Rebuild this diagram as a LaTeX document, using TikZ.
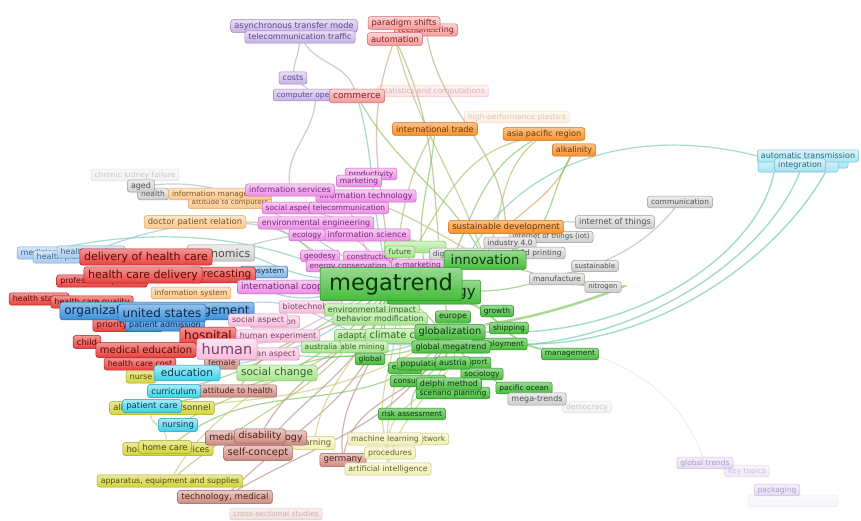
\documentclass[tikz,border=0pt]{standalone}
\usepackage{fontspec}
\setmainfont{DejaVu Sans}
\pgfdeclarelayer{bgzero}
\pgfdeclarelayer{edgelayer}
\pgfsetlayers{bgzero,edgelayer,main}
\definecolor{PuF}{HTML}{C5B0E6}\definecolor{PuD}{HTML}{9D84C4}\definecolor{PuT}{HTML}{5E4488}
\definecolor{SaF}{HTML}{F59898}\definecolor{SaD}{HTML}{D46A6A}\definecolor{SaT}{HTML}{7E1C1C}
\definecolor{OrF}{HTML}{F7902A}\definecolor{OrD}{HTML}{CF6E0E}\definecolor{OrT}{HTML}{6E3300}
\definecolor{PeF}{HTML}{FBC68A}\definecolor{PeD}{HTML}{E0A060}\definecolor{PeT}{HTML}{7E5218}
\definecolor{MaF}{HTML}{EC8DE6}\definecolor{MaD}{HTML}{C866C0}\definecolor{MaT}{HTML}{782676}
\definecolor{GrF}{HTML}{CDCDCD}\definecolor{GrD}{HTML}{9A9A9A}\definecolor{GrT}{HTML}{505050}
\definecolor{LbF}{HTML}{A6CBEE}\definecolor{LbD}{HTML}{7CA6CE}\definecolor{LbT}{HTML}{3E6088}
\definecolor{ReF}{HTML}{E8403C}\definecolor{ReD}{HTML}{B41E1E}\definecolor{ReT}{HTML}{5E0606}
\definecolor{BlF}{HTML}{3B90DA}\definecolor{BlD}{HTML}{1E66AE}\definecolor{BlT}{HTML}{08264E}
\definecolor{PkF}{HTML}{F8BCDD}\definecolor{PkD}{HTML}{D890B8}\definecolor{PkT}{HTML}{7E3E66}
\definecolor{GnF}{HTML}{44BC3A}\definecolor{GnD}{HTML}{2A8A22}\definecolor{GnT}{HTML}{0A3608}
\definecolor{LgF}{HTML}{A6E38A}\definecolor{LgD}{HTML}{7EBE66}\definecolor{LgT}{HTML}{2C661E}
\definecolor{CyF}{HTML}{3ED0EA}\definecolor{CyD}{HTML}{1E9EBE}\definecolor{CyT}{HTML}{083E4E}
\definecolor{YeF}{HTML}{D4D43A}\definecolor{YeD}{HTML}{A6A61E}\definecolor{YeT}{HTML}{4A4A06}
\definecolor{RoF}{HTML}{CC8A80}\definecolor{RoD}{HTML}{A05E56}\definecolor{RoT}{HTML}{561C16}
\definecolor{PyF}{HTML}{F0F0B0}\definecolor{PyD}{HTML}{C6C67E}\definecolor{PyT}{HTML}{62622C}
\definecolor{TqF}{HTML}{A6E4F2}\definecolor{TqD}{HTML}{6EBED6}\definecolor{TqT}{HTML}{28667C}
\definecolor{eTeal}{HTML}{6FCBB5}\definecolor{eGreen}{HTML}{7CC65A}\definecolor{eOlive}{HTML}{B5BA6A}
\definecolor{eSal}{HTML}{D5A080}\definecolor{eGray}{HTML}{A8BAB2}\definecolor{eBlue}{HTML}{8DBEE0}
\definecolor{eRose}{HTML}{B88E86}\definecolor{eCyan}{HTML}{6CCFE0}\definecolor{ePink}{HTML}{E0A0D0}
\definecolor{eYel}{HTML}{C8CC70}\definecolor{eOr}{HTML}{E0A050}
\tikzset{
 lab/.style={rounded corners=2.5pt, line width=0.5pt, inner ysep=0pt},
 sz/.style={font=\fontsize{#1}{#1}\selectfont, minimum height={1.3*#1pt+2pt}, inner xsep={0.2*#1pt+2pt}},
 cPu/.style={lab, top color=PuF!40!white, bottom color=PuF, draw=PuD, text=PuT},
 cSa/.style={lab, top color=SaF!40!white, bottom color=SaF, draw=SaD, text=SaT},
 cOr/.style={lab, top color=OrF!55!white, bottom color=OrF, draw=OrD, text=OrT},
 cPe/.style={lab, top color=PeF!45!white, bottom color=PeF, draw=PeD, text=PeT},
 cMa/.style={lab, top color=MaF!45!white, bottom color=MaF, draw=MaD, text=MaT},
 cGr/.style={lab, top color=GrF!35!white, bottom color=GrF, draw=GrD, text=GrT},
 cLb/.style={lab, top color=LbF!45!white, bottom color=LbF, draw=LbD, text=LbT},
 cRe/.style={lab, top color=ReF!55!white, bottom color=ReF, draw=ReD, text=ReT},
 cBl/.style={lab, top color=BlF!55!white, bottom color=BlF, draw=BlD, text=BlT},
 cPk/.style={lab, top color=PkF!40!white, bottom color=PkF, draw=PkD, text=PkT},
 cGn/.style={lab, top color=GnF!55!white, bottom color=GnF, draw=GnD, text=GnT},
 cLg/.style={lab, top color=LgF!45!white, bottom color=LgF, draw=LgD, text=LgT},
 cCy/.style={lab, top color=CyF!45!white, bottom color=CyF, draw=CyD, text=CyT},
 cYe/.style={lab, top color=YeF!50!white, bottom color=YeF, draw=YeD, text=YeT},
 cRo/.style={lab, top color=RoF!45!white, bottom color=RoF, draw=RoD, text=RoT},
 cPy/.style={lab, top color=PyF!40!white, bottom color=PyF, draw=PyD, text=PyT},
 cTq/.style={lab, top color=TqF!40!white, bottom color=TqF, draw=TqD, text=TqT},
 fade/.style={opacity=0.28},
 e/.style={line width=1.2pt, opacity=0.65},
}
\begin{document}
\begin{tikzpicture}[x=1pt,y=-1pt]
\useasboundingbox (0,0) rectangle (861,520);
\begin{pgfonlayer}{bgzero}
\fill[white] (0,0) rectangle (861,520);
\end{pgfonlayer}
% ---------- faded nodes
\node[cSa,sz=7.5,fade] (stat) at (433,91) {statistics and computations};
\node[cPe,sz=7.5,fade] (hpp) at (517,117) {high-performance plastics};
\node[cGr,sz=7.5,fade] (ckf) at (135,175) {chronic kidney failure};
\node[cGr,sz=7.5,fade] (demo) at (587,407) {democracy};
\node[cRo,sz=7.5,fade] (css) at (276,514) {cross-sectional studies};
\node[cPu,sz=7.5,fade] (ktp) at (747,471) {key topics};
\node[cPu,sz=7.5,opacity=0.45] (gtr) at (705,463) {global trends};
\node[cPu,sz=7.5,opacity=0.15,minimum width=90] (resb) at (793,501) {};
\node[cPu,sz=7.5,opacity=0.45] (pack) at (777,490) {packaging};
% ---------- purple top
\node[cPu,sz=8.3] (atm) at (294,26) {asynchronous transfer mode};
\node[cPu,sz=8] (ttr) at (300,37) {telecommunication traffic};
\node[cPu,sz=8] (costs) at (293,78) {costs};
\node[cPu,sz=7.5] (compop) at (316,95) {computer operations};
% ---------- salmon
\node[cSa,sz=8] (reeng) at (426,30) {reengineering};
\node[cSa,sz=8.3] (ps) at (404,23) {paradigm shifts};
\node[cSa,sz=8.3] (auto) at (395,39) {automation};
\node[cSa,sz=9] (comm) at (357,96) {commerce};
% ---------- orange
\node[cOr,sz=8.3] (itrade) at (435,129) {international trade};
\node[cOr,sz=8.2] (apr) at (544,134) {asia pacific region};
\node[cOr,sz=8] (alk) at (574,150) {alkalinity};
% ---------- turquoise
\node[cTq,sz=8,minimum width=90] (atb1) at (803,162) {};
\node[cTq,sz=8,minimum width=80] (atb2) at (798,166) {};
\node[cTq,sz=8] (at) at (808,156) {automatic transmission};
\node[cTq,sz=8] (integ) at (800,165) {integration};
% ---------- gray
\node[cGr,sz=7.5] (hlth) at (153,194) {health};
\node[cGr,sz=8] (aged) at (141,186) {aged};
\node[cGr,sz=7.5] (comm2) at (680,202) {communication};
\node[cGr,sz=7] (iot2) at (551,237) {internet of things (iot)};
\node[cGr,sz=8.3] (iot) at (615,222) {internet of things};
\node[cGr,sz=7.5] (ind) at (510,243) {industry 4.0};
\node[cGr,sz=7.5] (tdp) at (541,253) {3d printing};
\node[cGr,sz=7] (sust) at (595,266) {sustainable};
\node[cGr,sz=7.5] (manu) at (557,279) {manufacture};
\node[cGr,sz=7] (nitro) at (603,287) {nitrogen};
\node[cOr,sz=8.5] (sd) at (506,227) {sustainable development};
% ---------- peach
\node[cPe,sz=7] (attc) at (230,203) {attitude to computers};
\node[cPe,sz=7.5] (infm) at (220,194) {information management};
\node[cPe,sz=8.4] (dpr) at (195,222) {doctor patient relation};
% ---------- magenta
\node[cMa,sz=7.5] (soc) at (292,208) {social aspects};
\node[cMa,sz=7.5] (tel) at (349,208) {telecommunication};
\node[cMa,sz=7.5] (prod) at (371,174) {productivity};
\node[cMa,sz=7.5] (mkt) at (359,181) {marketing};
\node[cMa,sz=8] (it) at (366,196) {information technology};
\node[cMa,sz=8] (is) at (290,190) {information services};
\node[cMa,sz=8] (ee) at (316,223) {environmental engineering};
\node[cMa,sz=8] (infsci) at (367,235) {information science};
\node[cMa,sz=7.5] (eco) at (307,235) {ecology};
\node[cMa,sz=7.5] (geo) at (320,256) {geodesy};
\node[cMa,sz=7.5] (cons) at (370,257) {construction};
\node[cMa,sz=7.5] (enc) at (348,266) {energy conservation};
\node[cMa,sz=7.5] (mkt2) at (418,265) {e-marketing};
% ---------- light blue
\node[cLb,sz=8] (lb1) at (39,253) {medicine};
\node[cLb,sz=8] (lb2) at (68,257) {health planning};
\node[cLb,sz=8] (lb3) at (91,252) {health services};
\node[lab,sz=7.5,top color=BlF!30!white,bottom color=BlF!65!white,draw=BlD,text=BlT] (eco2) at (264,272) {ecosystem};
% ---------- red / gray big
\node[cGr,sz=11] (econ) at (221,253) {economics};
\node[cRe,sz=10.5] (fc) at (222,275) {forecasting};
\node[cRe,sz=8] (pro) at (102,281) {professional practice};
\node[cRe,sz=11] (doh) at (146,257) {delivery of health care};
\node[cRe,sz=11] (hcd) at (143,275) {health care delivery};
\node[cMa,sz=9] (icoop) at (298,287) {international cooperation};
\node[cPe,sz=7.5] (infsys) at (191,293) {information system};
\node[cRe,sz=8] (hs1) at (39,299) {health status};
\node[cRe,sz=8] (hs2) at (92,302) {health care quality};
\node[cRe,sz=8.5] (prio) at (128,325) {priority journal};
\node[cBl,sz=8] (pad) at (165,325) {patient admission};
\node[cBl,sz=12] (orgm) at (157,311) {organization and management};
\node[cBl,sz=12] (us) at (162,313) {united states};
\node[cRe,sz=12] (hosp) at (208,336) {hospital};
\node[cRe,sz=8.5] (child) at (87,342) {child};
\node[cRe,sz=8] (hcc) at (140,364) {health care cost};
\node[cRe,sz=10] (med) at (146,350) {medical education};
% ---------- light pink
\node[cPk,sz=8] (evl) at (275,322) {evaluation};
\node[cPk,sz=8] (asp1) at (258,320) {social aspect};
\node[cPk,sz=8] (hexp) at (278,336) {human experiment};
\node[cRo,sz=8] (fem) at (222,363) {female};
\node[cPk,sz=8] (asp2) at (267,354) {human aspect};
\node[cPk,sz=14.5] (human) at (227,349) {human};
\node[cPk,sz=8] (bio) at (311,307) {biotechnology};
% ---------- light green
\node[cLg,sz=7.5,minimum width=62] (futb) at (415,247) {};
\node[cLg,sz=7.5] (future) at (400,252) {future};
\node[cGr,sz=7.5] (digi) at (457,254) {digitalization};
\node[cLg,sz=8] (envimp) at (372,310) {environmental impact};
\node[cLg,sz=8] (behmod) at (380,319) {behavior modification};
\node[cLg,sz=8.5] (adapt) at (361,336) {adaptation};
\node[cLg,sz=10] (cc) at (408,336) {climate change};
\node[cLg,sz=7.5] (sm) at (349,347) {sustainable mining};
\node[cLg,sz=7.5] (aus) at (321,347) {australia};
\node[cLg,sz=10.5] (schange) at (277,373) {social change};
% ---------- green
\node[cGn,sz=7.5] (growth) at (497,311) {growth};
\node[cGn,sz=8] (europe) at (453,317) {europe};
\node[cGn,sz=7.5] (pping) at (509,328) {shipping};
\node[cGn,sz=7.5] (ment) at (500,344) {employment};
\node[cGn,sz=8] (gmt) at (451,347) {global megatrend};
\node[cGn,sz=9.8] (glob) at (450,332) {globalization};
\node[cGn,sz=7.5] (global) at (370,359) {global};
\node[cGn,sz=7.5] (en) at (405,368) {energy};
\node[cGn,sz=7.5] (trn) at (470,363) {transport};
\node[cGn,sz=7.5] (ogy) at (482,374) {sociology};
\node[cGn,sz=8] (popu) at (422,364) {population};
\node[cGn,sz=8] (austria) at (453,363) {austria};
\node[cGn,sz=7.5] (consu) at (418,381) {consumption};
\node[cGn,sz=7.5] (scen) at (453,393) {scenario planning};
\node[cGn,sz=8] (delphi) at (449,384) {delphi method};
\node[cGn,sz=7.5] (pacific) at (524,388) {pacific ocean};
\node[cGr,sz=8] (mt) at (537,399) {mega-trends};
\node[cGn,sz=7.5] (mgmt) at (570,354) {management};
\node[cGn,sz=7.5] (risk) at (412,414) {risk assessment};
\node[cGn,sz=13,minimum width=82] (innov) at (485,260) {innovation};
\node[cGn,sz=15,minimum height=24] (tech) at (434,292) {technology};
\node[cGn,sz=22.5,minimum height=33,minimum width=142] (mega) at (391,284) {megatrend};
% ---------- cyan / yellow
\node[cYe,sz=8] (nurse) at (141,377) {nurse};
\node[cCy,sz=10.5,minimum width=66] (edu) at (187,373) {education};
\node[cRo,sz=8] (ath) at (238,391) {attitude to health};
\node[cCy,sz=8.5] (curr) at (174,391) {curriculum};
\node[cYe,sz=8.5] (hp) at (162,408) {allied health personnel};
\node[cCy,sz=8.5] (pcare) at (152,406) {patient care};
\node[cCy,sz=8.5] (nurs) at (178,425) {nursing};
\node[cYe,sz=8.5] (hcs) at (168,449) {home care services};
\node[cYe,sz=8.5] (hcare) at (165,447) {home care};
\node[cYe,sz=7.8] (app) at (170,481) {apparatus, equipment and supplies};
% ---------- rose / pale yellow
\node[cPy,sz=8.5] (learn) at (314,443) {learning};
\node[cRo,sz=9.5] (medt) at (256,438) {medical technology};
\node[cRo,sz=9.5] (dis) at (260,436) {disability};
\node[cRo,sz=10] (sc) at (258,453) {self-concept};
\node[cRo,sz=8.7] (ger) at (343,460) {germany};
\node[cRo,sz=8.6] (tm) at (225,497) {technology, medical};
\node[cPy,sz=7.5] (nw) at (430,439) {network};
\node[cPy,sz=7.8] (ml) at (385,439) {machine learning};
\node[cPy,sz=7.8] (proc) at (390,453) {procedures};
\node[cPy,sz=7.8] (ai) at (388,469) {artificial intelligence};
% ---------- edges
\begin{pgfonlayer}{edgelayer}
\draw[e,eGray] (ttr) to[out=-95,in=85] (costs);
\draw[e,eGray] (ttr) to[out=-55,in=110] (comm);
\draw[e,eGray] (costs) -- (compop);
\draw[e,eGray] (compop) to[out=-95,in=95] (is);
\draw[e,eTeal] (comm) to[out=-75,in=105] (mega);
\draw[e,eGreen] (comm) to[out=-60,in=120] (innov);
\draw[e,eSal] (auto) to[out=-110,in=95] (mega);
\draw[e,eOlive] (auto) to[out=-75,in=110] (innov);
\draw[e,eSal!60!eGreen] (auto) to[out=-65,in=100] (glob);
\draw[e,eSal!60!eGreen] (reeng) to[out=-80,in=95] (sd);
\draw[e,eOlive] (itrade) to[out=-120,in=80] (mega);
\draw[e,eGreen] (itrade) to[out=-95,in=110] (tech);
\draw[e,eOlive] (apr) to[out=-165,in=55] (mega);
\draw[e,eGreen] (apr) to[out=-150,in=60] (tech);
\draw[e,eOr] (alk) to[out=-115,in=40] (sd);
\draw[e,eTeal] (at.west) .. controls (650,128) and (520,150) .. (mega.north east);
\draw[e,eTeal,line width=1.4pt] (glob.east) .. controls (640,340) and (760,250) .. (integ.south west);
\draw[e,eTeal,line width=1.4pt] (gmt.east) .. controls (650,345) and (770,250) .. (integ.south);
\draw[e,eTeal,line width=1.4pt] (ment.east) .. controls (660,345) and (780,255) .. (integ.south east);
\draw[e,eGreen,line width=2.5pt] (glob.north east) .. controls (560,315) and (640,280) .. (nitro.east);
\draw[e,eGreen,line width=2pt] (mega.south east) to[out=-15,in=170] (mgmt);
\draw[e,eGreen] (innov) to[out=-15,in=175] (nitro);
\draw[e,eGreen] (mega) to[out=-5,in=195] (sust);
\draw[e,eGray] (sd) to[out=5,in=180] (iot);
\draw[e,eGray] (comm2) to[out=-130,in=20] (manu);
\draw[e,eGreen] (innov) to[out=20,in=-120] (alk);
\draw[e,eOlive] (apr) to[out=-140,in=70] (innov);
\draw[e,eBlue] (lb3) .. controls (200,212) and (300,212) .. (mega.north west);
\draw[e,eTeal] (lb1) .. controls (150,228) and (300,225) .. (glob.north west);
\draw[e,eGray] (aged) to[out=5,in=150] (mega);
\draw[e,eGray] (hlth) to[out=0,in=165] (innov);
\draw[e,eOlive] (dpr) to[out=0,in=160] (mega);
\draw[e,eOlive] (infm) to[out=5,in=150] (innov);
\draw[e,eTeal] (doh) to[out=5,in=175] (mega);
\draw[e,eGray] (econ) to[out=15,in=165] (innov);
\draw[e,eTeal] (hcd) to[out=0,in=190] (mega);
\draw[e,eTeal] (med) to[out=0,in=200] (glob);
\draw[e,eBlue] (orgm) to[out=5,in=200] (glob);
\draw[e,ePink] (human) to[out=10,in=205] (mega);
\draw[e,eGreen] (schange) to[out=20,in=-150] (glob);
\draw[e,eCyan] (edu) to[out=10,in=-140] (mega);
\draw[e,eGreen] (curr) to[out=15,in=-150] (mega);
\draw[e,eGreen] (pcare) to[out=10,in=-130] (mega);
\draw[e,eYel] (hp) to[out=5,in=-150] (glob);
\draw[e,eGreen] (hcs) to[out=40,in=-130] (glob);
\draw[e,eOlive] (nurs) to[out=30,in=-120] (mega);
\draw[e,eRose] (ath) to[out=60,in=-140] (mega);
\draw[e,eRose] (dis) to[out=60,in=-120] (mega);
\draw[e,eRose] (sc) to[out=50,in=-110] (mega);
\draw[e,eRose] (tm) to[out=45,in=-100] (mega);
\draw[e,eRose] (tm) to[out=30,in=-120] (glob);
\draw[e,eYel] (app) to[out=60,in=-140] (schange);
\draw[e,eOlive] (app) to[out=40,in=-120] (mega);
\draw[e,eYel] (hcare) to[out=80,in=-100] (pcare);
\draw[e,eRose] (ger) to[out=95,in=-95] (mega);
\draw[e,eRose] (ger) to[out=80,in=-110] (glob);
\draw[e,eYel] (ml) to[out=100,in=-80] (mega);
\draw[e,eYel] (ai) to[out=95,in=-75] (mega);
\draw[e,eYel] (ai) to[out=80,in=-95] (glob);
\draw[e,eYel] (proc) to[out=100,in=-70] (glob);
\draw[e,eGreen] (risk) to[out=95,in=-90] (glob);
\draw[e,eYel] (learn) to[out=80,in=-110] (mega);
\draw[e,eGreen] (mt) to[out=160,in=-40] (mega);
\draw[e,eGray,opacity=0.25,line width=0.8pt] (glob) to[out=-5,in=110] (gtr);
\draw[e,ePink] (ee) to[out=-20,in=120] (mega);
\draw[e,ePink] (is) to[out=-10,in=130] (mega);
\draw[e,eGreen] (global) to[out=90,in=-110] (mega);
\end{pgfonlayer}
\end{tikzpicture}
\end{document}
